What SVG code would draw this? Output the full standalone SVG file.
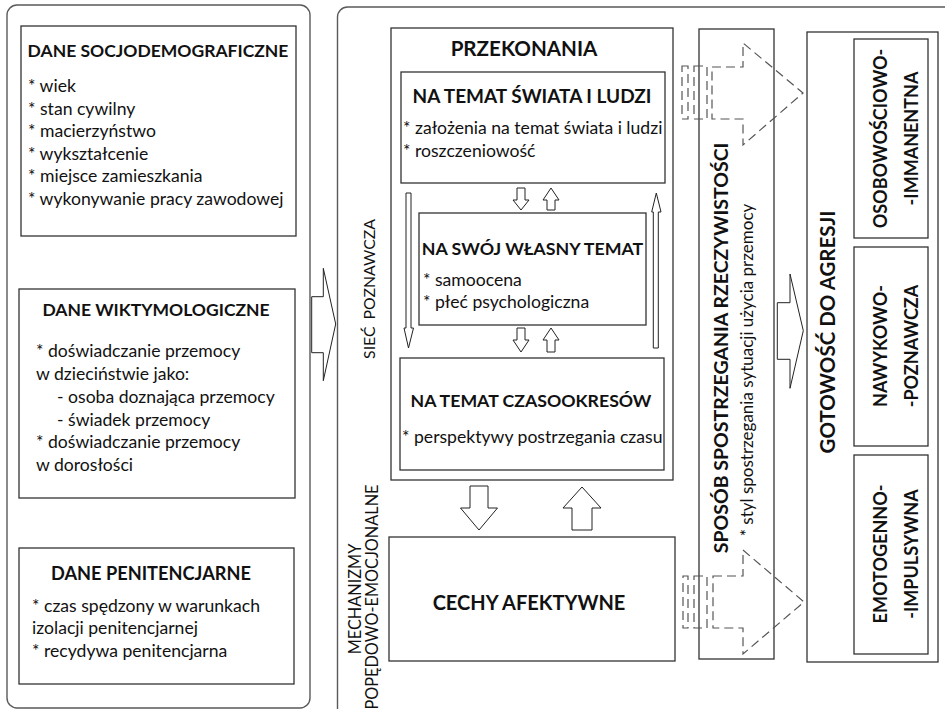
<svg xmlns="http://www.w3.org/2000/svg" width="945" height="709" viewBox="0 0 945 709">
<style>
.bg{fill:#ffffff}
.panel{fill:none;stroke:#5a5a5a;stroke-width:1.4}
.box{fill:#ffffff;stroke:#333333;stroke-width:1.3}
.arr{fill:#ffffff;stroke:#222222;stroke-width:1}
.dash{fill:none;stroke:#555555;stroke-width:1.2;stroke-dasharray:9 5}
text{font-family:Lato,"Liberation Sans",sans-serif;fill:#111111}
.t{font-weight:bold;font-size:17.7px;text-anchor:middle}
.tb{font-weight:bold;font-size:20.5px;text-anchor:middle}
.b{font-size:17.6px}
.r{font-size:17px;text-anchor:middle}
.rb{font-weight:bold;font-size:18px;text-anchor:middle}
</style>
<rect class="bg" x="0" y="0" width="945" height="709"/>
<g id="panel-left"><rect class="panel" x="7" y="5" width="303" height="703" rx="10"/></g>
<g id="panel-right"><rect class="panel" x="337.5" y="7" width="640" height="730" rx="10"/></g>

<g id="dane-socjodemograficzne">
<rect class="box" x="21" y="26" width="275" height="210"/>
<text class="t" style="font-size:17.5px" x="158" y="57">DANE SOCJODEMOGRAFICZNE</text>
<text class="b" x="28" y="92">* wiek</text>
<text class="b" x="28" y="114.5">* stan cywilny</text>
<text class="b" x="28" y="137">* macierzyństwo</text>
<text class="b" x="28" y="159.7">* wykształcenie</text>
<text class="b" x="28" y="182.3">* miejsce zamieszkania</text>
<text class="b" x="28" y="205">* wykonywanie pracy zawodowej</text>
</g>

<g id="dane-wiktymologiczne">
<rect class="box" x="19" y="289" width="276" height="209"/>
<text class="t" style="font-size:17.5px" x="156" y="316">DANE WIKTYMOLOGICZNE</text>
<text class="b" x="36" y="357.3">* doświadczanie przemocy</text>
<text class="b" x="36" y="380">w dzieciństwie jako:</text>
<text class="b" x="57" y="402.7">- osoba doznająca przemocy</text>
<text class="b" x="57" y="425.7">- świadek przemocy</text>
<text class="b" x="36" y="448.3">* doświadczanie przemocy</text>
<text class="b" x="36" y="471">w dorosłości</text>
</g>

<g id="dane-penitencjarne">
<rect class="box" x="19" y="548" width="275" height="136"/>
<text class="t" style="font-size:18.2px" x="151" y="580">DANE PENITENCJARNE</text>
<text class="b" x="32" y="611.7">* czas spędzony w warunkach</text>
<text class="b" x="32" y="634.3">izolacji penitencjarnej</text>
<text class="b" x="32" y="656.7">* recydywa penitencjarna</text>
</g>

<g id="label-siec">
<text class="r" style="font-size:15.8px" transform="translate(375,289) rotate(-90)" word-spacing="3">SIEĆ POZNAWCZA</text>
</g>
<g id="label-mechanizmy">
<text class="r" style="font-size:16.3px" transform="translate(361,599) rotate(-90)">MECHANIZMY</text>
<text class="r" style="font-size:16.3px" transform="translate(378,597) rotate(-90)">POPĘDOWO-EMOCJONALNE</text>
</g>

<g id="przekonania">
<rect class="box" x="391" y="28" width="282" height="452"/>
<text class="tb" style="font-size:20.6px" x="524" y="56">PRZEKONANIA</text>
</g>

<g id="swiat-i-ludzie">
<rect class="box" x="401" y="72" width="264" height="111"/>
<text class="t" style="font-size:19px" x="532" y="103">NA TEMAT ŚWIATA I LUDZI</text>
<text class="b" x="403" y="134">* założenia na temat świata i ludzi</text>
<text class="b" x="403" y="156.5">* roszczeniowość</text>
</g>

<g id="wlasny-temat">
<rect class="box" x="419" y="213" width="227" height="112"/>
<text class="t" style="font-size:17.8px" x="532.5" y="255">NA SWÓJ WŁASNY TEMAT</text>
<text class="b" x="423" y="286">* samoocena</text>
<text class="b" x="423" y="308.3">* płeć psychologiczna</text>
</g>

<g id="czasookresy">
<rect class="box" x="400" y="358" width="264" height="112"/>
<text class="t" x="531" y="407">NA TEMAT CZASOOKRESÓW</text>
<text class="b" x="402" y="443.3">* perspektywy postrzegania czasu</text>
</g>

<g id="cechy-afektywne">
<rect class="box" x="389" y="537" width="286" height="124"/>
<text class="tb" style="font-size:20px" x="529" y="610">CECHY AFEKTYWNE</text>
</g>

<g id="sposob-spostrzegania">
<rect class="box" x="699" y="29" width="75" height="630"/>
<text class="tb" style="font-size:19.5px" transform="translate(728,348) rotate(-90)">SPOSÓB SPOSTRZEGANIA RZECZYWISTOŚCI</text>
<text class="r" transform="translate(753,370) rotate(-90)">* styl spostrzegania sytuacji użycia przemocy</text>
</g>

<g id="gotowosc-do-agresji">
<rect class="box" x="807" y="32" width="131" height="630"/>
<text class="tb" style="font-size:20.5px" transform="translate(835,332) rotate(-90)">GOTOWOŚĆ DO AGRESJI</text>
</g>

<g id="osobowosciowo-immanentna">
<rect class="box" x="854" y="39" width="74" height="199"/>
<text class="rb" transform="translate(887,138.5) rotate(-90)">OSOBOWOŚCIOWO-</text>
<text class="rb" transform="translate(917.5,138.5) rotate(-90)">-IMMANENTNA</text>
</g>

<g id="nawykowo-poznawcza">
<rect class="box" x="854" y="247" width="74" height="199"/>
<text class="rb" transform="translate(887,346) rotate(-90)">NAWYKOWO-</text>
<text class="rb" transform="translate(917.5,346) rotate(-90)">-POZNAWCZA</text>
</g>

<g id="emotogenno-impulsywna">
<rect class="box" x="854" y="455" width="74" height="199"/>
<text class="rb" transform="translate(887,554) rotate(-90)">EMOTOGENNO-</text>
<text class="rb" transform="translate(917.5,554) rotate(-90)">-IMPULSYWNA</text>
</g>

<g id="connectors">
<polygon class="arr" points="311.7,296.7 323.3,296.7 323.3,268.3 335.7,324 323.3,380.7 323.3,352.7 311.7,352.7"/>
<polygon class="arr" points="777.3,302.7 790,302.7 790,274 803.3,330.7 790,388.3 790,359.3 777.3,359.3"/>
<polygon class="arr" points="470,486 488,486 488,508 497.5,508 479,530 460.5,508 470,508"/>
<polygon class="arr" points="582,487 601,508 592,508 592,530 572,530 572,508 563,508"/>
<polygon class="arr" points="517,188 525,188 525,200 529,200 521,210 513,200 517,200"/>
<polygon class="arr" points="551,188 559,200 555,200 555,210 547,210 547,200 543,200"/>
<polygon class="arr" points="517,328 525,328 525,340 529,340 521,352 513,340 517,340"/>
<polygon class="arr" points="551,328 559,340 555,340 555,352 547,352 547,340 543,340"/>
<polygon class="arr" points="406,193 411,193 411,328 413.5,328 408.5,348 404,328 406,328"/>
<polygon class="arr" points="656.3,193 661,212 658.3,212 658.3,348 653.3,348 653.3,212 651.7,212"/>
<rect class="dash" x="682" y="66" width="6" height="53"/>
<rect class="dash" x="694" y="66" width="13" height="53"/>
<polygon class="dash" points="712,67 743,67 743,43 803,93 743,145 743,119 712,119"/>
<rect class="dash" x="683" y="576" width="5" height="52"/>
<rect class="dash" x="694" y="576" width="13" height="52"/>
<polygon class="dash" points="713,576 743,576 743,550 804,602 743,654 743,628 713,628"/>
</g>
</svg>
